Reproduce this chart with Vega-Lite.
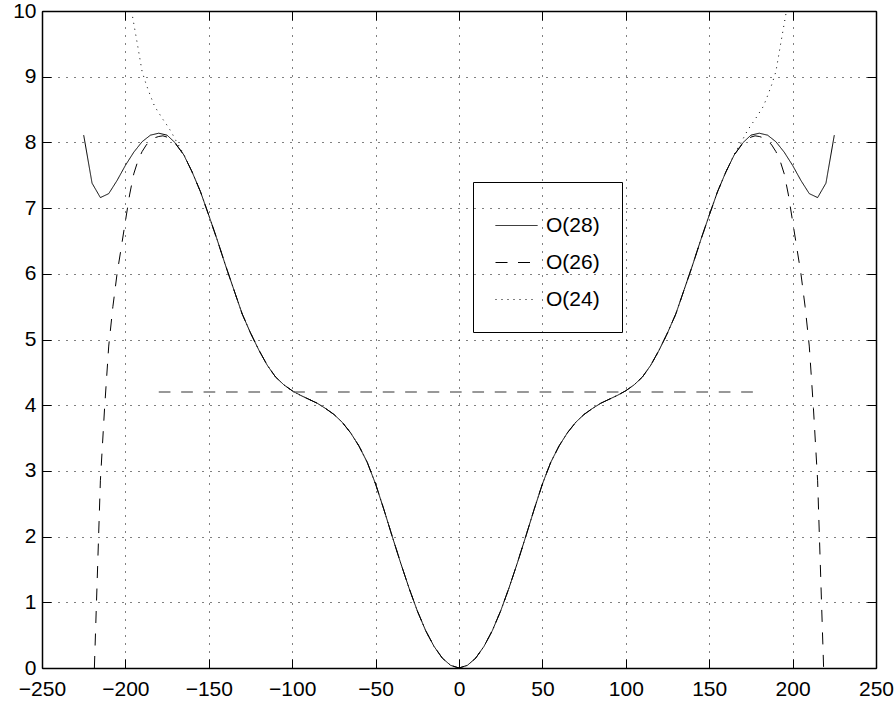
{
  "$schema": "https://vega.github.io/schema/vega-lite/v6.json",
  "width": 834,
  "height": 657,
  "autosize": {"type": "none"},
  "padding": {"left": 42, "top": 11, "right": 20, "bottom": 36},
  "background": "white",
  "config": {
    "view": {"stroke": null},
    "font": "Liberation Sans",
    "axis": {
      "domainColor": "black",
      "domainWidth": 1.5,
      "tickColor": "black",
      "tickWidth": 1,
      "labelColor": "black",
      "labelFontSize": 21,
      "labelFont": "Liberation Sans",
      "gridColor": "black",
      "gridDash": [1, 7],
      "gridWidth": 1
    }
  },
  "datasets": {
    "curves": [
      {"x": -196.3, "y": 10, "s": "O(24)"},
      {"x": -192.5, "y": 9.45, "s": "O(24)"},
      {"x": -190, "y": 9.08, "s": "O(24)"},
      {"x": -187.5, "y": 8.88, "s": "O(24)"},
      {"x": -185, "y": 8.71, "s": "O(24)"},
      {"x": -182.5, "y": 8.55, "s": "O(24)"},
      {"x": -180, "y": 8.45, "s": "O(24)"},
      {"x": -177.5, "y": 8.35, "s": "O(24)"},
      {"x": -175, "y": 8.26, "s": "O(24)"},
      {"x": -172.5, "y": 8.16, "s": "O(24)"},
      {"x": -170, "y": 8.04, "s": "O(24)"},
      {"x": -165, "y": 7.82, "s": "O(24)"},
      {"x": -160, "y": 7.55, "s": "O(24)"},
      {"x": -155, "y": 7.25, "s": "O(24)"},
      {"x": -150, "y": 6.89, "s": "O(24)"},
      {"x": -145, "y": 6.52, "s": "O(24)"},
      {"x": -140, "y": 6.13, "s": "O(24)"},
      {"x": -135, "y": 5.76, "s": "O(24)"},
      {"x": -130, "y": 5.39, "s": "O(24)"},
      {"x": -125, "y": 5.1, "s": "O(24)"},
      {"x": -120, "y": 4.84, "s": "O(24)"},
      {"x": -115, "y": 4.61, "s": "O(24)"},
      {"x": -110, "y": 4.43, "s": "O(24)"},
      {"x": -105, "y": 4.31, "s": "O(24)"},
      {"x": -100, "y": 4.22, "s": "O(24)"},
      {"x": -95, "y": 4.15, "s": "O(24)"},
      {"x": -90, "y": 4.09, "s": "O(24)"},
      {"x": -85, "y": 4.03, "s": "O(24)"},
      {"x": -80, "y": 3.95, "s": "O(24)"},
      {"x": -75, "y": 3.86, "s": "O(24)"},
      {"x": -70, "y": 3.74, "s": "O(24)"},
      {"x": -65, "y": 3.58, "s": "O(24)"},
      {"x": -60, "y": 3.38, "s": "O(24)"},
      {"x": -55, "y": 3.13, "s": "O(24)"},
      {"x": -50, "y": 2.8, "s": "O(24)"},
      {"x": -45, "y": 2.41, "s": "O(24)"},
      {"x": -40, "y": 2.0, "s": "O(24)"},
      {"x": -35, "y": 1.6, "s": "O(24)"},
      {"x": -30, "y": 1.22, "s": "O(24)"},
      {"x": -25, "y": 0.87, "s": "O(24)"},
      {"x": -20, "y": 0.57, "s": "O(24)"},
      {"x": -15, "y": 0.33, "s": "O(24)"},
      {"x": -10, "y": 0.15, "s": "O(24)"},
      {"x": -5, "y": 0.04, "s": "O(24)"},
      {"x": 0, "y": 0, "s": "O(24)"},
      {"x": 5, "y": 0.04, "s": "O(24)"},
      {"x": 10, "y": 0.15, "s": "O(24)"},
      {"x": 15, "y": 0.33, "s": "O(24)"},
      {"x": 20, "y": 0.57, "s": "O(24)"},
      {"x": 25, "y": 0.87, "s": "O(24)"},
      {"x": 30, "y": 1.22, "s": "O(24)"},
      {"x": 35, "y": 1.6, "s": "O(24)"},
      {"x": 40, "y": 2.0, "s": "O(24)"},
      {"x": 45, "y": 2.41, "s": "O(24)"},
      {"x": 50, "y": 2.8, "s": "O(24)"},
      {"x": 55, "y": 3.13, "s": "O(24)"},
      {"x": 60, "y": 3.38, "s": "O(24)"},
      {"x": 65, "y": 3.58, "s": "O(24)"},
      {"x": 70, "y": 3.74, "s": "O(24)"},
      {"x": 75, "y": 3.86, "s": "O(24)"},
      {"x": 80, "y": 3.95, "s": "O(24)"},
      {"x": 85, "y": 4.03, "s": "O(24)"},
      {"x": 90, "y": 4.09, "s": "O(24)"},
      {"x": 95, "y": 4.15, "s": "O(24)"},
      {"x": 100, "y": 4.22, "s": "O(24)"},
      {"x": 105, "y": 4.31, "s": "O(24)"},
      {"x": 110, "y": 4.43, "s": "O(24)"},
      {"x": 115, "y": 4.61, "s": "O(24)"},
      {"x": 120, "y": 4.84, "s": "O(24)"},
      {"x": 125, "y": 5.1, "s": "O(24)"},
      {"x": 130, "y": 5.39, "s": "O(24)"},
      {"x": 135, "y": 5.76, "s": "O(24)"},
      {"x": 140, "y": 6.13, "s": "O(24)"},
      {"x": 145, "y": 6.52, "s": "O(24)"},
      {"x": 150, "y": 6.89, "s": "O(24)"},
      {"x": 155, "y": 7.25, "s": "O(24)"},
      {"x": 160, "y": 7.55, "s": "O(24)"},
      {"x": 165, "y": 7.82, "s": "O(24)"},
      {"x": 170, "y": 8.04, "s": "O(24)"},
      {"x": 172.5, "y": 8.16, "s": "O(24)"},
      {"x": 175, "y": 8.26, "s": "O(24)"},
      {"x": 177.5, "y": 8.35, "s": "O(24)"},
      {"x": 180, "y": 8.45, "s": "O(24)"},
      {"x": 182.5, "y": 8.55, "s": "O(24)"},
      {"x": 185, "y": 8.71, "s": "O(24)"},
      {"x": 187.5, "y": 8.88, "s": "O(24)"},
      {"x": 190, "y": 9.08, "s": "O(24)"},
      {"x": 192.5, "y": 9.45, "s": "O(24)"},
      {"x": 196.3, "y": 10, "s": "O(24)"},

      {"x": -218.6, "y": 0, "s": "O(26)"},
      {"x": -215, "y": 2.85, "s": "O(26)"},
      {"x": -212.5, "y": 3.95, "s": "O(26)"},
      {"x": -210, "y": 4.9, "s": "O(26)"},
      {"x": -207.5, "y": 5.5, "s": "O(26)"},
      {"x": -205, "y": 6.0, "s": "O(26)"},
      {"x": -202.5, "y": 6.4, "s": "O(26)"},
      {"x": -200, "y": 6.8, "s": "O(26)"},
      {"x": -197.5, "y": 7.2, "s": "O(26)"},
      {"x": -195, "y": 7.52, "s": "O(26)"},
      {"x": -192.5, "y": 7.72, "s": "O(26)"},
      {"x": -190, "y": 7.86, "s": "O(26)"},
      {"x": -187.5, "y": 7.96, "s": "O(26)"},
      {"x": -185, "y": 8.03, "s": "O(26)"},
      {"x": -182.5, "y": 8.07, "s": "O(26)"},
      {"x": -180, "y": 8.09, "s": "O(26)"},
      {"x": -177.5, "y": 8.1, "s": "O(26)"},
      {"x": -175, "y": 8.08, "s": "O(26)"},
      {"x": -170, "y": 7.98, "s": "O(26)"},
      {"x": -165, "y": 7.81, "s": "O(26)"},
      {"x": -160, "y": 7.55, "s": "O(26)"},
      {"x": -155, "y": 7.25, "s": "O(26)"},
      {"x": -150, "y": 6.89, "s": "O(26)"},
      {"x": -145, "y": 6.52, "s": "O(26)"},
      {"x": -140, "y": 6.13, "s": "O(26)"},
      {"x": -135, "y": 5.76, "s": "O(26)"},
      {"x": -130, "y": 5.39, "s": "O(26)"},
      {"x": -125, "y": 5.1, "s": "O(26)"},
      {"x": -120, "y": 4.84, "s": "O(26)"},
      {"x": -115, "y": 4.61, "s": "O(26)"},
      {"x": -110, "y": 4.43, "s": "O(26)"},
      {"x": -105, "y": 4.31, "s": "O(26)"},
      {"x": -100, "y": 4.22, "s": "O(26)"},
      {"x": -95, "y": 4.15, "s": "O(26)"},
      {"x": -90, "y": 4.09, "s": "O(26)"},
      {"x": -85, "y": 4.03, "s": "O(26)"},
      {"x": -80, "y": 3.95, "s": "O(26)"},
      {"x": -75, "y": 3.86, "s": "O(26)"},
      {"x": -70, "y": 3.74, "s": "O(26)"},
      {"x": -65, "y": 3.58, "s": "O(26)"},
      {"x": -60, "y": 3.38, "s": "O(26)"},
      {"x": -55, "y": 3.13, "s": "O(26)"},
      {"x": -50, "y": 2.8, "s": "O(26)"},
      {"x": -45, "y": 2.41, "s": "O(26)"},
      {"x": -40, "y": 2.0, "s": "O(26)"},
      {"x": -35, "y": 1.6, "s": "O(26)"},
      {"x": -30, "y": 1.22, "s": "O(26)"},
      {"x": -25, "y": 0.87, "s": "O(26)"},
      {"x": -20, "y": 0.57, "s": "O(26)"},
      {"x": -15, "y": 0.33, "s": "O(26)"},
      {"x": -10, "y": 0.15, "s": "O(26)"},
      {"x": -5, "y": 0.04, "s": "O(26)"},
      {"x": 0, "y": 0, "s": "O(26)"},
      {"x": 5, "y": 0.04, "s": "O(26)"},
      {"x": 10, "y": 0.15, "s": "O(26)"},
      {"x": 15, "y": 0.33, "s": "O(26)"},
      {"x": 20, "y": 0.57, "s": "O(26)"},
      {"x": 25, "y": 0.87, "s": "O(26)"},
      {"x": 30, "y": 1.22, "s": "O(26)"},
      {"x": 35, "y": 1.6, "s": "O(26)"},
      {"x": 40, "y": 2.0, "s": "O(26)"},
      {"x": 45, "y": 2.41, "s": "O(26)"},
      {"x": 50, "y": 2.8, "s": "O(26)"},
      {"x": 55, "y": 3.13, "s": "O(26)"},
      {"x": 60, "y": 3.38, "s": "O(26)"},
      {"x": 65, "y": 3.58, "s": "O(26)"},
      {"x": 70, "y": 3.74, "s": "O(26)"},
      {"x": 75, "y": 3.86, "s": "O(26)"},
      {"x": 80, "y": 3.95, "s": "O(26)"},
      {"x": 85, "y": 4.03, "s": "O(26)"},
      {"x": 90, "y": 4.09, "s": "O(26)"},
      {"x": 95, "y": 4.15, "s": "O(26)"},
      {"x": 100, "y": 4.22, "s": "O(26)"},
      {"x": 105, "y": 4.31, "s": "O(26)"},
      {"x": 110, "y": 4.43, "s": "O(26)"},
      {"x": 115, "y": 4.61, "s": "O(26)"},
      {"x": 120, "y": 4.84, "s": "O(26)"},
      {"x": 125, "y": 5.1, "s": "O(26)"},
      {"x": 130, "y": 5.39, "s": "O(26)"},
      {"x": 135, "y": 5.76, "s": "O(26)"},
      {"x": 140, "y": 6.13, "s": "O(26)"},
      {"x": 145, "y": 6.52, "s": "O(26)"},
      {"x": 150, "y": 6.89, "s": "O(26)"},
      {"x": 155, "y": 7.25, "s": "O(26)"},
      {"x": 160, "y": 7.55, "s": "O(26)"},
      {"x": 165, "y": 7.81, "s": "O(26)"},
      {"x": 170, "y": 7.98, "s": "O(26)"},
      {"x": 175, "y": 8.08, "s": "O(26)"},
      {"x": 177.5, "y": 8.1, "s": "O(26)"},
      {"x": 180, "y": 8.09, "s": "O(26)"},
      {"x": 182.5, "y": 8.07, "s": "O(26)"},
      {"x": 185, "y": 8.03, "s": "O(26)"},
      {"x": 187.5, "y": 7.96, "s": "O(26)"},
      {"x": 190, "y": 7.86, "s": "O(26)"},
      {"x": 192.5, "y": 7.72, "s": "O(26)"},
      {"x": 195, "y": 7.52, "s": "O(26)"},
      {"x": 197.5, "y": 7.2, "s": "O(26)"},
      {"x": 200, "y": 6.8, "s": "O(26)"},
      {"x": 202.5, "y": 6.4, "s": "O(26)"},
      {"x": 205, "y": 6.0, "s": "O(26)"},
      {"x": 207.5, "y": 5.5, "s": "O(26)"},
      {"x": 210, "y": 4.9, "s": "O(26)"},
      {"x": 212.5, "y": 3.95, "s": "O(26)"},
      {"x": 215, "y": 2.85, "s": "O(26)"},
      {"x": 218.6, "y": 0, "s": "O(26)"},

      {"x": -225, "y": 8.11, "s": "O(28)"},
      {"x": -220, "y": 7.38, "s": "O(28)"},
      {"x": -215, "y": 7.16, "s": "O(28)"},
      {"x": -210, "y": 7.22, "s": "O(28)"},
      {"x": -205, "y": 7.42, "s": "O(28)"},
      {"x": -200, "y": 7.65, "s": "O(28)"},
      {"x": -195, "y": 7.85, "s": "O(28)"},
      {"x": -190, "y": 8.01, "s": "O(28)"},
      {"x": -185, "y": 8.11, "s": "O(28)"},
      {"x": -180, "y": 8.14, "s": "O(28)"},
      {"x": -175, "y": 8.11, "s": "O(28)"},
      {"x": -170, "y": 7.99, "s": "O(28)"},
      {"x": -165, "y": 7.81, "s": "O(28)"},
      {"x": -160, "y": 7.55, "s": "O(28)"},
      {"x": -155, "y": 7.25, "s": "O(28)"},
      {"x": -150, "y": 6.89, "s": "O(28)"},
      {"x": -145, "y": 6.52, "s": "O(28)"},
      {"x": -140, "y": 6.13, "s": "O(28)"},
      {"x": -135, "y": 5.76, "s": "O(28)"},
      {"x": -130, "y": 5.39, "s": "O(28)"},
      {"x": -125, "y": 5.1, "s": "O(28)"},
      {"x": -120, "y": 4.84, "s": "O(28)"},
      {"x": -115, "y": 4.61, "s": "O(28)"},
      {"x": -110, "y": 4.43, "s": "O(28)"},
      {"x": -105, "y": 4.31, "s": "O(28)"},
      {"x": -100, "y": 4.22, "s": "O(28)"},
      {"x": -95, "y": 4.15, "s": "O(28)"},
      {"x": -90, "y": 4.09, "s": "O(28)"},
      {"x": -85, "y": 4.03, "s": "O(28)"},
      {"x": -80, "y": 3.95, "s": "O(28)"},
      {"x": -75, "y": 3.86, "s": "O(28)"},
      {"x": -70, "y": 3.74, "s": "O(28)"},
      {"x": -65, "y": 3.58, "s": "O(28)"},
      {"x": -60, "y": 3.38, "s": "O(28)"},
      {"x": -55, "y": 3.13, "s": "O(28)"},
      {"x": -50, "y": 2.8, "s": "O(28)"},
      {"x": -45, "y": 2.41, "s": "O(28)"},
      {"x": -40, "y": 2.0, "s": "O(28)"},
      {"x": -35, "y": 1.6, "s": "O(28)"},
      {"x": -30, "y": 1.22, "s": "O(28)"},
      {"x": -25, "y": 0.87, "s": "O(28)"},
      {"x": -20, "y": 0.57, "s": "O(28)"},
      {"x": -15, "y": 0.33, "s": "O(28)"},
      {"x": -10, "y": 0.15, "s": "O(28)"},
      {"x": -5, "y": 0.04, "s": "O(28)"},
      {"x": 0, "y": 0, "s": "O(28)"},
      {"x": 5, "y": 0.04, "s": "O(28)"},
      {"x": 10, "y": 0.15, "s": "O(28)"},
      {"x": 15, "y": 0.33, "s": "O(28)"},
      {"x": 20, "y": 0.57, "s": "O(28)"},
      {"x": 25, "y": 0.87, "s": "O(28)"},
      {"x": 30, "y": 1.22, "s": "O(28)"},
      {"x": 35, "y": 1.6, "s": "O(28)"},
      {"x": 40, "y": 2.0, "s": "O(28)"},
      {"x": 45, "y": 2.41, "s": "O(28)"},
      {"x": 50, "y": 2.8, "s": "O(28)"},
      {"x": 55, "y": 3.13, "s": "O(28)"},
      {"x": 60, "y": 3.38, "s": "O(28)"},
      {"x": 65, "y": 3.58, "s": "O(28)"},
      {"x": 70, "y": 3.74, "s": "O(28)"},
      {"x": 75, "y": 3.86, "s": "O(28)"},
      {"x": 80, "y": 3.95, "s": "O(28)"},
      {"x": 85, "y": 4.03, "s": "O(28)"},
      {"x": 90, "y": 4.09, "s": "O(28)"},
      {"x": 95, "y": 4.15, "s": "O(28)"},
      {"x": 100, "y": 4.22, "s": "O(28)"},
      {"x": 105, "y": 4.31, "s": "O(28)"},
      {"x": 110, "y": 4.43, "s": "O(28)"},
      {"x": 115, "y": 4.61, "s": "O(28)"},
      {"x": 120, "y": 4.84, "s": "O(28)"},
      {"x": 125, "y": 5.1, "s": "O(28)"},
      {"x": 130, "y": 5.39, "s": "O(28)"},
      {"x": 135, "y": 5.76, "s": "O(28)"},
      {"x": 140, "y": 6.13, "s": "O(28)"},
      {"x": 145, "y": 6.52, "s": "O(28)"},
      {"x": 150, "y": 6.89, "s": "O(28)"},
      {"x": 155, "y": 7.25, "s": "O(28)"},
      {"x": 160, "y": 7.55, "s": "O(28)"},
      {"x": 165, "y": 7.81, "s": "O(28)"},
      {"x": 170, "y": 7.99, "s": "O(28)"},
      {"x": 175, "y": 8.11, "s": "O(28)"},
      {"x": 180, "y": 8.14, "s": "O(28)"},
      {"x": 185, "y": 8.11, "s": "O(28)"},
      {"x": 190, "y": 8.01, "s": "O(28)"},
      {"x": 195, "y": 7.85, "s": "O(28)"},
      {"x": 200, "y": 7.65, "s": "O(28)"},
      {"x": 205, "y": 7.42, "s": "O(28)"},
      {"x": 210, "y": 7.22, "s": "O(28)"},
      {"x": 215, "y": 7.16, "s": "O(28)"},
      {"x": 220, "y": 7.38, "s": "O(28)"},
      {"x": 225, "y": 8.11, "s": "O(28)"}
    ],
    "level": [
      {"x": -180, "y": 4.2},
      {"x": 180, "y": 4.2}
    ]
  },
  "layer": [
    {
      "data": {"name": "curves"},
      "mark": {"type": "line", "color": "black", "strokeWidth": 1, "clip": true},
      "encoding": {
        "x": {
          "field": "x", "type": "quantitative",
          "scale": {"domain": [-250, 250], "nice": false, "zero": false},
          "axis": {
            "orient": "bottom", "title": null,
            "values": [-250, -200, -150, -100, -50, 0, 50, 100, 150, 200, 250],
            "format": "d", "grid": true, "tickSize": -9, "labelPadding": 19.5,
            "labelFlush": false, "labelOverlap": false
          }
        },
        "y": {
          "field": "y", "type": "quantitative",
          "scale": {"domain": [0, 10], "nice": false},
          "axis": {
            "orient": "left", "title": null,
            "values": [0, 1, 2, 3, 4, 5, 6, 7, 8, 9, 10],
            "format": "d", "grid": true, "tickSize": -9, "labelPadding": 15,
            "labelFlush": false, "labelOverlap": false
          }
        },
        "strokeDash": {
          "field": "s", "type": "nominal",
          "scale": {"domain": ["O(28)", "O(26)", "O(24)"], "range": [[1, 0], [12, 10.5], [1, 5]]},
          "legend": {
            "title": null, "orient": "none", "legendX": 431, "legendY": 171,
            "strokeColor": "black", "fillColor": null, "padding": 22,
            "symbolType": "stroke", "symbolSize": 1764, "symbolStrokeWidth": 1, "symbolStrokeColor": "black",
            "labelFontSize": 21, "labelFont": "Liberation Sans", "labelColor": "black",
            "labelOffset": 8, "rowPadding": 5
          }
        }
      }
    },
    {
      "data": {"name": "level"},
      "mark": {"type": "line", "color": "#777777", "strokeWidth": 1.5, "strokeDash": [11.7, 10.7]},
      "encoding": {
        "x": {
          "field": "x", "type": "quantitative",
          "scale": {"domain": [-250, 250], "nice": false, "zero": false},
          "axis": {
            "orient": "top", "title": null, "labels": false, "grid": false,
            "values": [-250, -200, -150, -100, -50, 0, 50, 100, 150, 200, 250],
            "tickSize": -9
          }
        },
        "y": {
          "field": "y", "type": "quantitative",
          "scale": {"domain": [0, 10], "nice": false},
          "axis": {
            "orient": "right", "title": null, "labels": false, "grid": false,
            "values": [0, 1, 2, 3, 4, 5, 6, 7, 8, 9, 10],
            "tickSize": -9
          }
        }
      }
    }
  ],
  "resolve": {"axis": {"x": "independent", "y": "independent"}}
}
